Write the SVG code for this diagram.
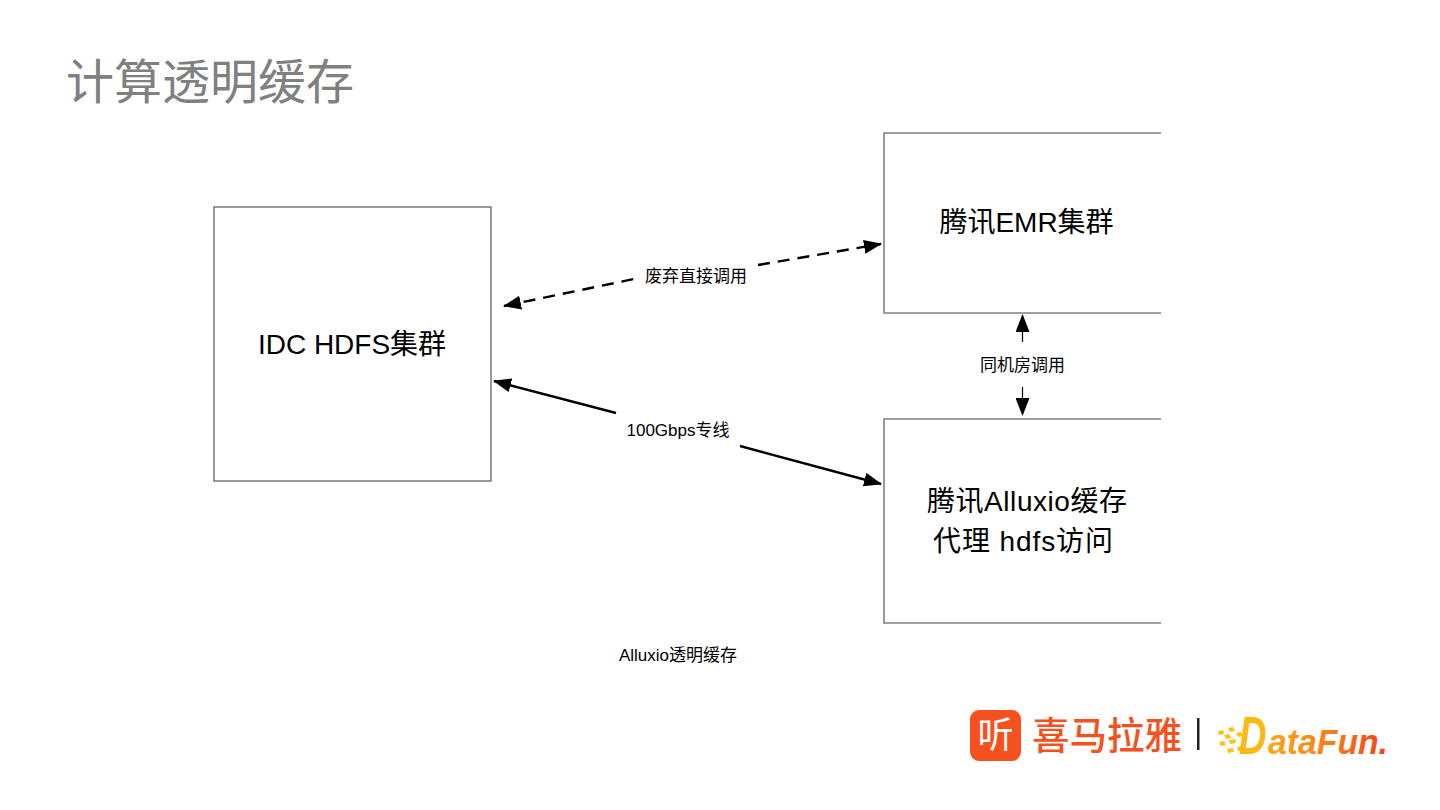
<svg xmlns="http://www.w3.org/2000/svg" width="1440" height="810" viewBox="0 0 1440 810">
<style>
text{font-family:"Liberation Sans","Noto Sans CJK SC",sans-serif;fill:#000}
.box{fill:none;stroke:#808080;stroke-width:1.6}
.big{font-size:28px;text-anchor:middle}
.lab{font-size:17px;text-anchor:middle}
.c{fill:none;stroke:#000;stroke-width:2.4}
.v{fill:none;stroke:#000;stroke-width:1.2}
.df{font-family:"Liberation Sans",sans-serif;font-weight:700;font-style:italic}
</style>
<defs>
<marker id="a" viewBox="0 0 18 14" refX="17" refY="7" markerWidth="18" markerHeight="14" markerUnits="userSpaceOnUse" orient="auto-start-reverse"><path d="M0 0L18 7L0 14Z" fill="#000"/></marker>
<linearGradient id="df" gradientUnits="userSpaceOnUse" x1="1268" x2="1388" y1="0" y2="0"><stop offset="0" stop-color="#f9a81a"/><stop offset="0.5" stop-color="#f8801c"/><stop offset="1" stop-color="#f2401a"/></linearGradient>
</defs>
<rect width="1440" height="810" fill="#fff"/>
<text id="title" x="66" y="99" style="font-size:48px;fill:#808080;font-family:'Noto Sans CJK SC',sans-serif;font-weight:400">计算透明缓存</text>
<g id="connectors">
<path class="c" stroke-dasharray="12 8" marker-start="url(#a)" d="M504 306L634 279"/>
<path class="c" stroke-dasharray="12 8" marker-end="url(#a)" d="M758 265L881 244"/>
<path class="c" marker-start="url(#a)" d="M494 381L616 413"/>
<path class="c" marker-end="url(#a)" d="M740 446L881 484"/>
<path class="v" marker-start="url(#a)" d="M1022.500 315L1022.500 342"/>
<path class="v" marker-end="url(#a)" d="M1022.500 387L1022.500 415"/>
</g>
<g id="idc"><rect class="box" x="214" y="207" width="277" height="274"/>
<text class="big" x="352" y="354">IDC HDFS集群</text></g>
<g id="emr"><path class="box" d="M1161 133H884V313H1161"/>
<text class="big" x="1026.500" y="232">腾讯EMR集群</text></g>
<g id="alluxio"><path class="box" d="M1161 419H884V623H1161"/>
<text class="big" x="1027" y="511" textLength="200">腾讯Alluxio缓存</text>
<text class="big" x="1023" y="551" textLength="180">代理 hdfs访问</text></g>
<text class="lab" x="696" y="282">废弃直接调用</text>
<text class="lab" x="678" y="436">100Gbps专线</text>
<text class="lab" x="1022.500" y="371">同机房调用</text>
<text class="lab" x="678" y="661">Alluxio透明缓存</text>
<g id="logo">
<rect x="970" y="710" width="51" height="51" rx="9" fill="#f4511e"/>
<text x="995.500" y="748" style="font-size:36px;text-anchor:middle;fill:#fff;font-family:'Noto Sans CJK SC',sans-serif">听</text>
<text x="1032" y="749" style="font-size:37.500px;fill:#f4511e;font-family:'Noto Sans CJK SC',sans-serif;font-weight:500">喜马拉雅</text>
<rect x="1197" y="718" width="2.500" height="32" fill="#222"/>
<g fill="#fbc21a"><path d="M1218 731l5-1 1 4-5 1z"/><path d="M1228 728l5-1 2 4-5 1z"/><path d="M1224 735l5-1 2 4-5 1z"/><path d="M1236 733l5-1 2 4-5 1z"/><path d="M1229 740l6-1 1 4-6 1z"/><path d="M1219 742l5-1 2 4-5 1z"/><path d="M1227 749l6-1 1 4-6 1z"/><path d="M1237 747l5-1 1 4-5 1z"/></g>
<text class="df" transform="translate(1239 754) scale(.72 1)" style="font-size:53px;fill:#fbb913">D</text>
<text class="df" x="1268" y="754" style="font-size:35px;fill:url(#df)" textLength="120" lengthAdjust="spacingAndGlyphs">ataFun.</text>
</g>
</svg>
